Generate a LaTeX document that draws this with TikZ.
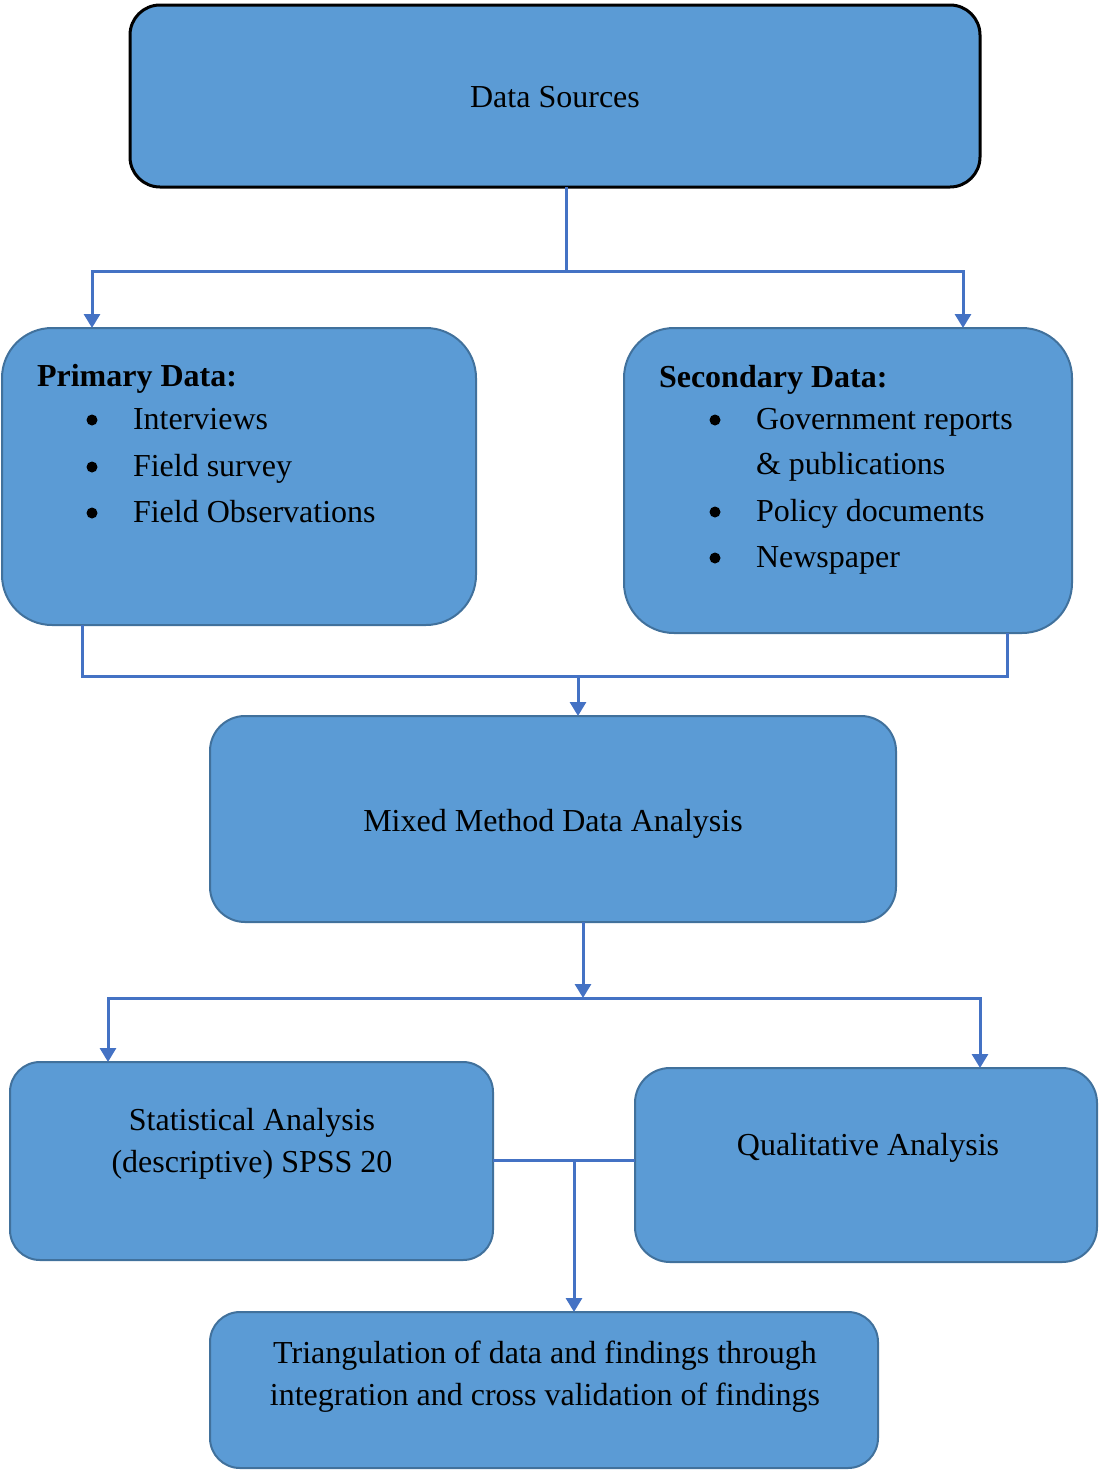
\documentclass[tikz,border=0pt]{standalone}
\usepackage{fontspec}
\setmainfont{Liberation Serif}
\usetikzlibrary{arrows.meta}
\definecolor{boxfill}{HTML}{5B9BD5}
\definecolor{boxline}{HTML}{41719C}
\definecolor{connblue}{HTML}{4472C4}
\tikzset{
  box/.style={draw=boxline, line width=2pt, fill=boxfill, rectangle,
    inner sep=0pt, outer sep=0pt},
  txt/.style={inner sep=0pt, outer sep=0pt, text=black,
    font=\fontsize{32}{42}\selectfont},
  ltxt/.style={txt, anchor=base west},
  ctxt/.style={txt, align=center},
  dot/.style={circle, fill=black, inner sep=0pt, minimum size=11pt},
  link/.style={draw=connblue, line width=3pt},
  arrowlink/.style={link, -{Triangle[width=16pt,length=14pt]}},
}
\begin{document}
\begin{tikzpicture}[x=1pt,y=-1pt]
\useasboundingbox (0,0) rectangle (1100,1470);

% boxes
\node[box, draw=black, line width=3pt, rounded corners=30pt,
  minimum width=850, minimum height=182] (src) at (555,96) {};
\node[box, rounded corners=50pt, minimum width=474, minimum height=297] (prim) at (239,476.5) {};
\node[box, rounded corners=50pt, minimum width=448, minimum height=305] (sec) at (848,480.5) {};
\node[box, rounded corners=35pt, minimum width=686, minimum height=206] (mix) at (553,819) {};
\node[box, rounded corners=30pt, minimum width=483, minimum height=198] (stat) at (251.5,1161) {};
\node[box, rounded corners=35pt, minimum width=462, minimum height=194] (qual) at (866,1165) {};
\node[box, rounded corners=30pt, minimum width=668, minimum height=156] (tri) at (544,1390) {};

% texts
\node[ctxt] (tsrc) at (555,97) {Data Sources};

\node[ltxt, font=\fontsize{32}{42}\selectfont\bfseries] (tprim) at (37,386) {Primary Data:};
\node[dot] (pb1) at (92,420) {};
\node[ltxt] (pi1) at (133,429) {Interviews};
\node[dot] (pb2) at (92,467) {};
\node[ltxt] (pi2) at (133,476) {Field survey};
\node[dot] (pb3) at (92,513) {};
\node[ltxt] (pi3) at (133,522) {Field Observations};

\node[ltxt, font=\fontsize{32}{42}\selectfont\bfseries] (tsec) at (659,387) {Secondary Data:};
\node[dot] (sb1) at (715,420) {};
\node[ltxt] (si1) at (756,429) {Government reports};
\node[ltxt] (si1b) at (756,474) {\& publications};
\node[dot] (sb2) at (715,512) {};
\node[ltxt] (si2) at (756,521) {Policy documents};
\node[dot] (sb3) at (715,558) {};
\node[ltxt] (si3) at (756,567) {Newspaper};

\node[ctxt] (tmix) at (553,824) {Mixed Method Data Analysis};
\node[ctxt] (tstat) at (252,1144) {Statistical Analysis\\(descriptive) SPSS 20};
\node[ctxt] (tqual) at (868,1148) {Qualitative Analysis};
\node[ctxt] (ttri) at (545,1377) {Triangulation of data and findings through\\integration and cross validation of findings};

% branching points
\coordinate (split1) at (566,271);
\coordinate (merge1) at (578,676);
\coordinate (split2) at (583,998);
\coordinate (merge2) at (574,1160);

% connectors
\draw[link] ([xshift=11]src.south) -- (split1);
\draw[arrowlink] (split1) -| ([xshift=90]prim.north west);
\draw[arrowlink] (split1) -| ([xshift=-109]sec.north east);

\draw[link] ([xshift=80]prim.south west) |- (merge1);
\draw[link] ([xshift=-65]sec.south east) |- (merge1);
\draw[arrowlink] (merge1) -- ([xshift=25]mix.north);

\draw[arrowlink] ([xshift=30]mix.south) -- (split2);
\draw[arrowlink] (split2) -| ([xshift=98]stat.north west);
\draw[arrowlink] (split2) -| ([xshift=-117]qual.north east);

\draw[link] ([yshift=1]stat.east) -- ([yshift=1]stat.east -| qual.west);
\draw[arrowlink] (merge2) -- ([xshift=30]tri.north);
\end{tikzpicture}
\end{document}
